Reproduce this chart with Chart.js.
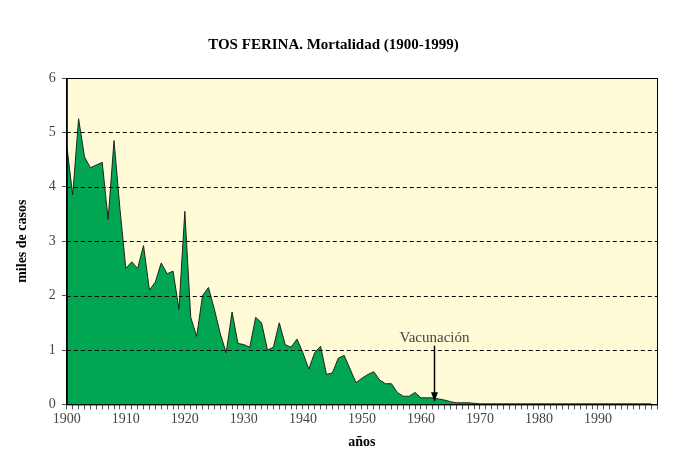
<!DOCTYPE html><html><head><script src="https://cdn.jsdelivr.net/npm/chart.js@4"></script>
<style>body{margin:0;background:#fff}#w{width:688px;height:455px}</style></head><body><div id="w"><canvas id="c"></canvas></div>
<script>
const years=[];for(let y=1900;y<=1999;y++)years.push(y);
const early=[4.75,3.85,5.25,4.55,4.35,4.4,4.45,3.4,4.85,3.6,2.5,2.62,2.5,2.92,2.1,2.25,2.6,2.4,2.45,1.75,3.55,1.6,1.25,2.0,2.15,1.75,1.3,0.95,1.7,1.12,1.1,1.05,1.6,1.5,1.0,1.05,1.5,1.1,1.05,1.2,0.95,0.65,0.95,1.07,0.55,0.58,0.85,0.9,0.65,0.4,0.48,0.55,0.6,0.45,0.38,0.38,0.22,0.15,0.15,0.22,0.12,0.12,0.12,0.1,0.08,0.05,0.03,0.03,0.03,0.02,0.01];
const late=[0.01,0.01,0.01,0.01,0.01,0.01,0.01,0.01,0.01,0.01,0.01,0.01,0.01,0.01,0.01,0.01,0.01,0.01,0.01,0.01,0.01,0.01,0.01,0.01,0.01,0.01,0.01,0.01,0.01];
const deaths=early.concat(late);
const yTicks=[0,1,2,3,4,5,6];
const F='"Liberation Serif", serif';
const bg={id:'bg',beforeDraw(c){const a=c.chartArea,x=c.ctx;x.save();x.fillStyle='#FFFBD6';x.fillRect(a.left,a.top,a.right-a.left,a.bottom-a.top);x.restore();},
afterDraw(c){const a=c.chartArea,x=c.ctx,sx=c.scales.x,sy=c.scales.y;x.save();
x.setLineDash([4,3]);x.strokeStyle='#000';x.lineWidth=1;
for(let v=1;v<=5;v++){const yy=Math.round(sy.getPixelForValue(v))+0.5;x.beginPath();x.moveTo(a.left,yy);x.lineTo(a.right,yy);x.stroke();}
x.setLineDash([]);x.strokeRect(a.left+0.5,a.top+0.5,a.right-a.left,a.bottom-a.top);
const px=sx.getPixelForValue(1962.3);x.beginPath();x.moveTo(px,sy.getPixelForValue(1.08));x.lineTo(px,sy.getPixelForValue(0.06));x.lineWidth=1.5;x.stroke();
const ay=sy.getPixelForValue(0.06);x.beginPath();x.moveTo(px,ay);x.lineTo(px-3.5,ay-9);x.lineTo(px+3.5,ay-9);x.closePath();x.fillStyle='#000';x.fill();
x.font='15px '+F;x.fillStyle='#444';x.textAlign='center';x.fillText('Vacunación',px,sy.getPixelForValue(1.2)+3);
x.restore();}};
new Chart(document.getElementById('c'),{type:'line',data:{labels:years,datasets:[{data:years.map((y,i)=>({x:y,y:deaths[i]})),fill:'origin',backgroundColor:'#00A651',borderColor:'#222',borderWidth:1,pointRadius:0,tension:0}]},
options:{responsive:true,maintainAspectRatio:false,animation:false,layout:{padding:{top:10,right:31,left:10,bottom:0}},
plugins:{legend:{display:false},tooltip:{enabled:false},title:{display:true,text:'TOS FERINA. Mortalidad (1900-1999)',color:'#000',font:{family:F,size:15},padding:{top:26,bottom:24}}},
scales:{x:{type:'linear',min:1900,max:2000,ticks:{stepSize:1,autoSkip:false,maxRotation:0,color:'#444',font:{family:F,size:14},padding:2,callback:v=>(v%10===0&&v<2000)?String(v):''},
grid:{drawOnChartArea:false,color:'#555',tickLength:5},border:{color:'#000'},title:{display:true,text:'años',color:'#000',font:{family:F,size:14,weight:'bold'},padding:{top:4}}},
y:{min:0,max:6,afterBuildTicks:s=>{s.ticks=yTicks.map(v=>({value:v}));},ticks:{color:'#444',font:{family:F,size:14},padding:6},grid:{drawOnChartArea:false,color:'#555',tickLength:5},border:{color:'#000'},
title:{display:true,text:'miles de casos',color:'#000',font:{family:F,size:14,weight:'bold'},padding:{bottom:12}}}}},plugins:[bg]});
</script></body></html>
